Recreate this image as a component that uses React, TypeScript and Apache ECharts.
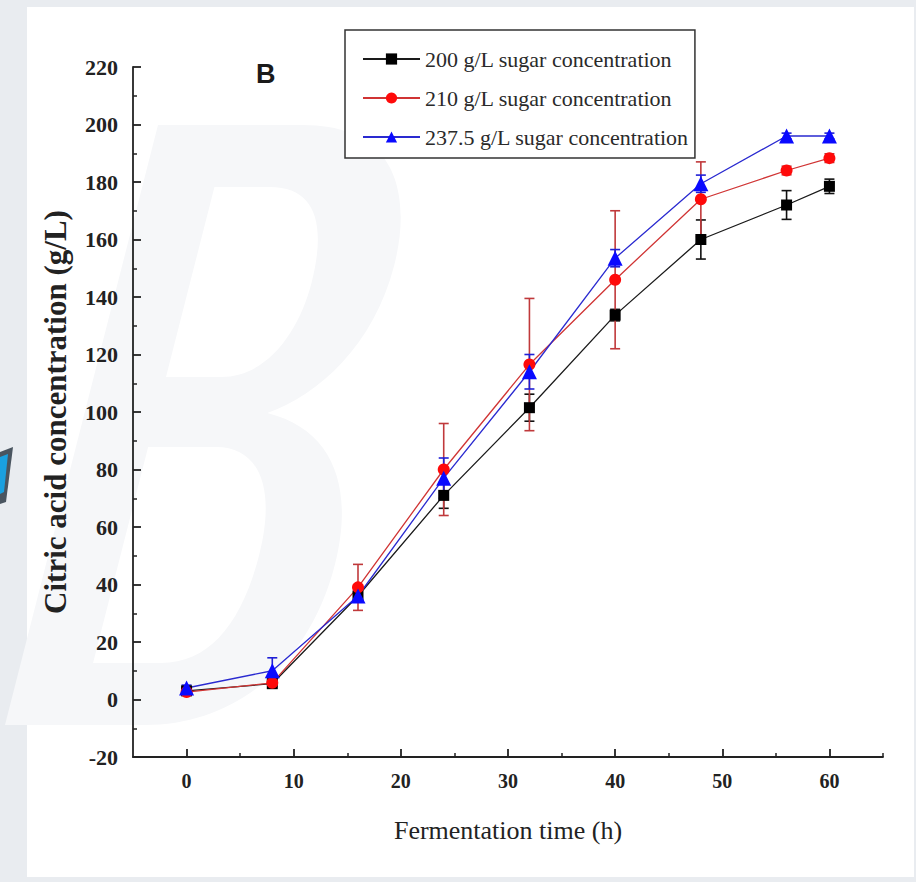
import React, { useEffect, useRef } from "react";
import * as echarts from "echarts";

const times = [0, 8, 16, 24, 32, 40, 48, 56, 60];
const seriesNames = [
  "200 g/L sugar concentration",
  "210 g/L sugar concentration",
  "237.5 g/L sugar concentration",
];
const black200 = [3, 5.5, 36, 71, 101.5, 133.7, 160, 172, 178.5];
const red210 = [2.6, 5.8, 39, 80, 116.5, 146, 174, 184, 188.3];
const blue237 = [4, 10, 36, 77, 114, 153.5, 179.4, 196, 196];
const errBlack = [1, 1, 2, 4.5, 4.7, 2, 6.8, 5, 2.5];
const errRed = [1, 1.5, 8, 16, 23, 24, 13, 1.5, 1.5];
const errBlue = [1, 4.5, 2, 7, 6, 3, 3, 1, 1];
const xMajorTicks = [0, 10, 20, 30, 40, 50, 60];
const xMinorTicks = [5, 15, 25, 35, 45, 55, 65];

const SERIF = "'Liberation Serif', 'Times New Roman', serif";

// faint watermark letter outline (upright B, skewed when building the path)
function skewPt(x: number, y: number) {
  return `${(x + (600 - y) * 0.3).toFixed(1)},${y}`;
}
function buildWatermark() {
  const seg = (cmd: string, pts: number[][]) => cmd + pts.map((p) => skewPt(p[0], p[1])).join(" ");
  return [
    seg("M", [[0, 0]]),
    seg("L", [[170, 0]]),
    seg("C", [[290, 0], [320, 80], [320, 140]]),
    seg("C", [[320, 220], [270, 270], [215, 288]]),
    seg("C", [[300, 305], [340, 365], [340, 440]]),
    seg("C", [[340, 540], [270, 600], [165, 600]]),
    seg("L", [[0, 600]]),
    "Z",
    seg("M", [[85, 62]]),
    seg("L", [[85, 252]]),
    seg("L", [[150, 252]]),
    seg("C", [[205, 252], [228, 205], [228, 158]]),
    seg("C", [[228, 100], [205, 62], [150, 62]]),
    "Z",
    seg("M", [[85, 322]]),
    seg("L", [[85, 538]]),
    seg("L", [[165, 538]]),
    seg("C", [[222, 538], [248, 498], [248, 430]]),
    seg("C", [[248, 362], [215, 322], [165, 322]]),
    "Z",
  ].join(" ");
}
let registered = false;

function errData(vals: number[], errs: number[]) {
  return times.map((t, i) => [t, vals[i] - errs[i], vals[i] + errs[i]]);
}

function errSeries(name: string, vals: number[], errs: number[], color: string) {
  return {
    name,
    type: "custom",
    xAxisIndex: 0,
    yAxisIndex: 0,
    z: 1,
    data: errData(vals, errs),
    encode: { x: 0, y: [1, 2] },
    renderItem: (params: any, api: any) => {
      const x = api.value(0);
      const lo = api.value(1);
      const hi = api.value(2);
      const p1 = api.coord([x, hi]);
      const p2 = api.coord([x, lo]);
      const w = 5;
      const style = { stroke: color, lineWidth: 1.6 };
      return {
        type: "group",
        children: [
          { type: "line", shape: { x1: p1[0], y1: p1[1], x2: p2[0], y2: p2[1] }, style },
          { type: "line", shape: { x1: p1[0] - w, y1: p1[1], x2: p1[0] + w, y2: p1[1] }, style },
          { type: "line", shape: { x1: p2[0] - w, y1: p2[1], x2: p2[0] + w, y2: p2[1] }, style },
        ],
      };
    },
  };
}

function lineSeries(name: string, vals: number[], color: string, lineColor: string, symbol: string, size: number) {
  return {
    name,
    type: "line",
    xAxisIndex: 0,
    yAxisIndex: 0,
    z: 3,
    data: times.map((t, i) => [t, vals[i]]),
    symbol,
    symbolSize: size,
    showSymbol: true,
    itemStyle: { color },
    lineStyle: { color: lineColor, width: 1.3 },
  };
}

export default function App() {
  const ref = useRef<HTMLDivElement>(null);
  useEffect(() => {
    if (!ref.current) return;
    if (!registered) {
      echarts.graphic.registerShape("wmB", echarts.graphic.extendPath(buildWatermark(), {}) as any);
      registered = true;
    }
    const chart = echarts.init(ref.current, null, { renderer: "svg" });
    chart.setOption({
      animation: false,
      backgroundColor: "#e9ecf0",
      graphic: [
        {
          type: "rect",
          z: -10,
          shape: { x: 27, y: 7, width: 887, height: 870 },
          style: { fill: "#ffffff" },
          silent: true,
        },
        {
          type: "wmB",
          z: -9,
          x: 5,
          y: 125,
          scaleX: 0.85,
          scaleY: 1.0,
          style: { fill: "#f6f7f9", stroke: "none" },
          silent: true,
        },
        {
          type: "polygon",
          z: -8,
          shape: { points: [[0, 452], [13, 447], [6, 502], [0, 504]] },
          style: { fill: "#4a5560" },
          silent: true,
        },
        {
          type: "polygon",
          z: -7,
          shape: { points: [[0, 457], [8, 454], [4, 492], [0, 494]] },
          style: { fill: "#1aa0e0" },
          silent: true,
        },
        {
          type: "text",
          left: 256,
          top: 60,
          style: {
            text: "B",
            font: "bold 27px 'Liberation Sans', Arial, sans-serif",
            fill: "#1a1a1a",
          },
        },
      ],
      legend: {
        data: seriesNames,
        orient: "vertical",
        left: 345,
        top: 30,
        padding: [18, 6, 10, 17],
        itemGap: 17,
        itemWidth: 57,
        itemHeight: 14,
        borderColor: "#333",
        borderWidth: 1.5,
        backgroundColor: "#fff",
        textStyle: { fontFamily: SERIF, fontSize: 22, color: "#2a2a2a" },
      },
      grid: { left: 133, right: 33, top: 67, bottom: 125, containLabel: false },
      xAxis: [
        {
          type: "value",
          min: -5,
          max: 65,
          position: "bottom",
          name: "Fermentation time (h)",
          nameLocation: "middle",
          nameGap: 60,
          nameTextStyle: { fontFamily: SERIF, fontSize: 26, color: "#222" },
          axisLine: { show: true, onZero: false, lineStyle: { color: "#222", width: 1.8 } },
          axisTick: { show: true, inside: true, length: 8, customValues: xMajorTicks, lineStyle: { color: "#222", width: 1.8 } },
          axisLabel: {
            customValues: xMajorTicks,
            margin: 14,
            fontFamily: SERIF,
            fontWeight: "bold",
            fontSize: 20,
            color: "#222",
          },
          splitLine: { show: false },
        },
        {
          type: "value",
          min: -5,
          max: 65,
          position: "bottom",
          axisLine: { show: false, onZero: false },
          axisTick: { show: true, inside: true, length: 4, customValues: xMinorTicks, lineStyle: { color: "#222", width: 1.5 } },
          axisLabel: { show: false },
          splitLine: { show: false },
        },
      ],
      yAxis: {
        type: "value",
        min: -20,
        max: 220,
        interval: 20,
        name: "Citric acid concentration (g/L)",
        nameLocation: "middle",
        nameGap: 62,
        nameTextStyle: { fontFamily: SERIF, fontWeight: "bold", fontSize: 31, color: "#222" },
        axisLine: { show: true, onZero: false, lineStyle: { color: "#222", width: 1.8 } },
        axisTick: { show: true, inside: true, length: 8, lineStyle: { color: "#222", width: 1.8 } },
        minorTick: { show: true, splitNumber: 2, length: 4, lineStyle: { color: "#222", width: 1.5 } },
        axisLabel: { margin: 15, fontFamily: SERIF, fontWeight: "bold", fontSize: 22, color: "#222" },
        splitLine: { show: false },
        minorSplitLine: { show: false },
      },
      series: [
        errSeries("err200", black200, errBlack, "#111111"),
        errSeries("err210", red210, errRed, "#c0393b"),
        errSeries("err237", blue237, errBlue, "#1f1fd6"),
        lineSeries(seriesNames[0], black200, "#000000", "#1a1a1a", "rect", 11),
        lineSeries(seriesNames[1], red210, "#ff0a0a", "#d03434", "circle", 12),
        lineSeries(seriesNames[2], blue237, "#0a0aff", "#2a2ad0", "triangle", 15),
      ],
    });
    return () => chart.dispose();
  }, []);
  return <div ref={ref} style={{ position: "fixed", left: 0, top: 0, width: 916, height: 882 }} />;
}
